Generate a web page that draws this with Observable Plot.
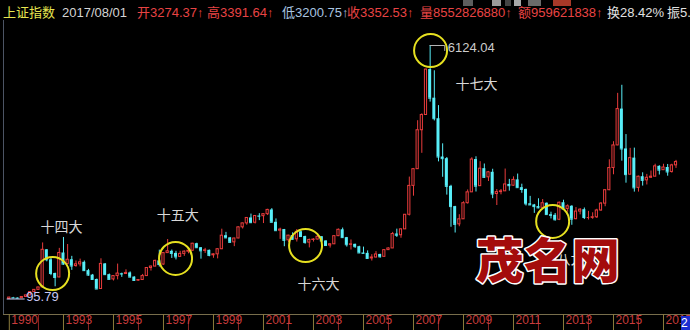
<!DOCTYPE html>
<html><head><meta charset="utf-8">
<script src="https://cdn.jsdelivr.net/npm/d3@7"></script>
<script src="https://cdn.jsdelivr.net/npm/@observablehq/plot@0.6"></script>
<style>
html,body{margin:0;padding:0;background:#000;width:690px;height:330px;overflow:hidden;}
#wrap{position:relative;width:690px;height:330px;background:#000;}
#hdr{position:absolute;left:0;top:0;width:690px;height:20px;overflow:hidden;font-size:13px;font-family:"Liberation Sans","Noto Sans CJK SC",sans-serif;}
#hdr span{position:absolute;top:5px;white-space:nowrap;line-height:16px;}
#chart{position:absolute;left:0;top:20px;}
.ic{position:absolute;top:0;height:6px;}
#cursor{position:absolute;left:681px;top:316px;width:9px;height:14px;background:#1c2ed0;color:#fff;font:12px "Liberation Sans",sans-serif;line-height:14px;overflow:hidden;}
</style></head><body>
<div id="wrap">
<div id="hdr">
<span style="left:3px;color:#e6e650">上证指数</span>
<span style="left:62px;color:#d4d4d4">2017/08/01</span>
<span style="left:137px;color:#e84444">开3274.37↑</span>
<span style="left:207px;color:#e84444">高3391.64↑</span>
<span style="left:282px;color:#a8c4e0">低3200.75↑</span>
<span style="left:347px;color:#e84444">收3352.53↑</span>
<span style="left:420px;color:#e84444">量8552826880↑</span>
<span style="left:518px;color:#e84444">额959621838↑</span>
<span style="left:607px;color:#e0e0e0">换28.42%</span>
<span style="left:667px;color:#e0e0e0">振5.95%</span>
<div class="ic" style="left:463px;width:10px;background:#5e5e5e"></div>
<div class="ic" style="left:492px;width:9px;background:#9a9a9a"></div>
<div class="ic" style="left:505px;width:6px;background:#444"></div>
<div class="ic" style="left:514px;width:7px;background:#a8a8a8"></div>
<div class="ic" style="left:528px;width:13px;background:#6a6a6a"></div>
<div class="ic" style="left:553px;width:18px;background:#a83828"></div>
</div>
<div id="chart"></div>
<div id="cursor">2</div>
</div>
<script>
// Bimonthly candles of the Shanghai Composite, Dec 1990 – Aug 2017 (k = 0..160)
const open = [
  96,130,120,115,144,181,
  260,313,371,1266,1028,703,
  608,1190,925,1030,880,920,
  968,770,664,560,333,930,
  675,562,641,701,690,716,
  617,537,547,641,833,867,
  1002,915,1187,1230,1180,1097,
  1168,1222,1243,1411,1315,1242,
  1253,1134,1158,1279,1601,1550,
  1443,1535,1800,1894,2023,1910,
  2070,2065,2113,2214,1920,1720,
  1747,1491,1603,1515,1694,1581,
  1437,1500,1510,1576,1476,1367,
  1397,1590,1742,1555,1386,1396,
  1340,1191,1181,1060,1083,1155,
  1099,1258,1298,1641,1612,1752,
  2099,2786,3183,4109,4471,5552,
  4871,4383,3472,3433,2775,2293,
  1871,1991,2374,2632,3412,2779,
  3195,2989,3109,2592,2638,2656,
  2820,2790,2928,2743,2701,2359,
  2333,2293,2263,2373,2103,2086,
  1980,2385,2237,2301,1994,2175,
  2220,2033,2033,2039,2201,2364,
  2683,3210,3748,4612,3664,3053,
  3446,2738,3004,2917,2979,3005,
  3250,3159,3223,3117,3274.37
];
const high = [
  135,134,121,145,181,260,
  313,371,1429,1270,1070,710,
  1300,1559,1392,1110,1000,1044,
  1000,800,680,570,1052,940,
  690,650,926,710,790,740,
  625,560,680,840,880,1020,
  1258,1200,1510,1260,1230,1230,
  1240,1250,1420,1422,1320,1300,
  1260,1170,1290,1756,1680,1560,
  1540,1810,1900,2030,2115,2080,
  2125,2120,2230,2245,2000,1780,
  1750,1610,1670,1748,1710,1590,
  1520,1530,1649,1580,1480,1400,
  1600,1760,1783,1560,1500,1400,
  1350,1330,1240,1150,1223,1160,
  1260,1310,1680,1757,1760,2100,
  2995,3200,4335,4500,5560,6124.04,
  5523,4695,3786,3460,2800,2300,
  2100,2407,2689,3455,3478,3361,
  3306,3130,3181,2700,2700,3186,
  2940,3000,3067,2826,2710,2536,
  2345,2479,2461,2380,2160,2130,
  2400,2445,2335,2315,2270,2245,
  2260,2180,2146,2230,2390,2690,
  3406,3836,4986,5178,4006,3678,
  3684,3018,3097,3059,3140,3301,
  3265,3300,3295,3300,3391.64
];
const low = [
  95.79,120,104,114,144,181,
  259,313,371,980,650,386,
  600,900,920,777,850,860,
  750,640,550,325,330,660,
  550,524,550,610,680,600,
  512,525,540,640,760,860,
  855,900,1180,1060,1025,1090,
  1110,1170,1230,1300,1043,1180,
  1100,1064,1050,1270,1530,1430,
  1341,1530,1760,1850,1890,1880,
  1960,1890,2080,1910,1720,1514,
  1339,1440,1500,1450,1570,1400,
  1311,1450,1500,1460,1350,1307,
  1390,1580,1540,1330,1260,1300,
  1180,1170,1050,998,1070,1070,
  1090,1250,1295,1560,1540,1750,
  2070,2541,3180,3560,4460,4778,
  4330,3357,2990,2566,1802,1665,
  1814,1990,2353,2630,2640,2775,
  2963,2890,2481,2319,2573,2655,
  2661,2775,2730,2610,2307,2319,
  2132,2243,2242,2100,1999,1949,
  1959,2216,2160,1849,1980,2097,
  1985,1974,1991,2010,2180,2290,
  2670,3050,3740,3373,2850,3040,
  2638,2638,2781,2807,2961,3000,
  3044,3150,3016,3089,3200.75
];
const close = [
  130,120,115,144,181,260,
  313,371,1266,1028,703,608,
  1190,925,1030,880,920,968,
  770,664,560,333,930,675,
  562,641,701,690,716,617,
  537,547,641,833,867,1002,
  915,1187,1230,1180,1097,1168,
  1222,1243,1411,1315,1242,1253,
  1134,1158,1279,1601,1550,1443,
  1535,1800,1894,2023,1910,2070,
  2065,2113,2214,1920,1720,1747,
  1491,1603,1515,1694,1581,1437,
  1500,1510,1576,1476,1367,1397,
  1590,1742,1555,1386,1396,1340,
  1191,1181,1060,1083,1155,1099,
  1258,1298,1641,1612,1752,2099,
  2786,3183,4109,4471,5552,4871,
  4383,3472,3433,2775,2293,1871,
  1991,2374,2632,3412,2779,3195,
  2989,3109,2592,2638,2656,2820,
  2790,2928,2743,2701,2359,2333,
  2293,2263,2373,2103,2086,1980,
  2385,2237,2301,1994,2175,2220,
  2033,2033,2039,2201,2364,2683,
  3210,3748,4612,3664,3053,3446,
  2738,3004,2917,2979,3005,3250,
  3159,3223,3117,3273,3352.53
];
// x-axis: labelled years and the candle index where each year starts
const tickLabels = ["1990","1993","1995","1997","1999","2001","2003","2005","2007","2009","2011","2013","2015","2017"];
const tickIndex  = [0,13,25,37,49,61,73,85,97,109,121,133,145,157];
const minorIndex = [7,19,31,43,55,67,79,91,103,115,127,139,151];
// annotations (party congresses) anchored in data space
const noteText  = ["十四大","十五大","十六大","十七大","十八大"];
const noteK     = [12.5,40.4,74.2,112.1,133];
const noteV     = [1796,2081,441,5197,1035];
const circleK   = [10.4,39.9,71.1,101.1,130.4];
const circleV   = [702,1059,1368,6005,1939];
const watermark = {t:"茂名网", k:129.2, v:964};

const data = open.map((o,k)=>({k, o, h:high[k], l:low[k], c:close[k]}));
const up = data.filter(d=>d.c>=d.o), down = data.filter(d=>d.c<d.o);
const RED="#e83c3c", CYAN="#58eef8";
const ticks = tickLabels.map((t,i)=>({t, k:tickIndex[i]}));
const notes = noteText.map((t,i)=>({t, k:noteK[i], v:noteV[i]}));
const circles = circleK.map((k,i)=>({k, v:circleV[i]}));
const hiIdx = d3.maxIndex(high), loIdx = d3.minIndex(low);
const peak = {k:hiIdx, v:high[hiIdx]}, trough = {k:loIdx, v:low[loIdx]};

const chart = Plot.plot({
  width:690, height:310,
  marginTop:0, marginLeft:3, marginRight:0, marginBottom:16,
  style:{background:"#000", overflow:"visible"},
  x:{type:"linear", domain:[0,160], range:[8.8,675.5], axis:null},
  y:{type:"linear", domain:[95.79,6124.04], range:[278.5,25], axis:null},
  marks:[
    Plot.frame({anchor:"left", stroke:"#4c5464"}),
    Plot.frame({anchor:"bottom", stroke:"#786e4c"}),
    Plot.axisX(minorIndex, {tickSize:16, stroke:"#8a2424", tickFormat:()=>""}),
    Plot.axisX(tickIndex, {tickSize:16, stroke:"#8c7c3c", tickFormat:()=>""}),
    Plot.text(ticks, {x:"k", text:"t", frameAnchor:"bottom", dy:9, dx:2, textAnchor:"start",
      fill:"#c83c3c", fontSize:12, fontFamily:"Liberation Sans"}),
    // wicks
    Plot.ruleX(up, {x:"k", y1:"l", y2:"h", stroke:RED, strokeWidth:1}),
    Plot.ruleX(down, {x:"k", y1:"l", y2:"h", stroke:CYAN, strokeWidth:1}),
    // bodies
    Plot.ruleY(up, {y:"c", x1:d=>d.k-0.3, x2:d=>d.k+0.3, stroke:RED}),
    Plot.rect(up, {x1:d=>d.k-0.26, x2:d=>d.k+0.26, y1:"o", y2:"c", fill:"#000", stroke:RED, strokeWidth:1}),
    Plot.ruleY(down, {y:"c", x1:d=>d.k-0.36, x2:d=>d.k+0.36, stroke:CYAN}),
    Plot.rect(down, {x1:d=>d.k-0.36, x2:d=>d.k+0.36, y1:"o", y2:"c", fill:CYAN}),
    // high / low markers
    Plot.ruleY([peak], {y:"v", x1:d=>d.k, x2:d=>d.k+3.5, stroke:"#b4b4b4"}),
    Plot.ruleX([peak], {x:d=>d.k+3.5, y1:"v", y2:d=>d.v-140, stroke:"#b4b4b4"}),
    Plot.text([peak], {x:d=>d.k+3.5, y:"v", text:d=>d3.format(".2f")(d.v), dx:3, dy:2, textAnchor:"start",
      fill:"#cccccc", fontSize:13, fontFamily:"Liberation Sans"}),
    Plot.ruleY([trough], {y:"v", x1:d=>d.k-0.5, x2:d=>d.k+3.8, stroke:"#c8c8f0"}),
    Plot.text([trough], {x:d=>d.k+3.8, y:"v", text:d=>d3.format(".2f")(d.v), dx:1, dy:-2, textAnchor:"start",
      fill:"#c8c8f4", fontSize:13, fontFamily:"Liberation Sans"}),
    // annotations
    Plot.dot(circles, {x:"k", y:"v", r:16.5, stroke:"#e6e020", strokeWidth:2, fill:"none"}),
    Plot.text(notes, {x:"k", y:"v", text:"t", fill:"#d8d8d8", fontSize:14, fontFamily:"Noto Sans CJK SC"}),
    Plot.text([watermark], {x:"k", y:"v", text:"t", fontSize:48, fontWeight:900, fill:"#a40c0c",
      stroke:"#ffffff", strokeWidth:3, paintOrder:"stroke", fontFamily:"Noto Sans CJK SC"})
  ]
});
document.getElementById("chart").appendChild(chart);
</script>
</body></html>
